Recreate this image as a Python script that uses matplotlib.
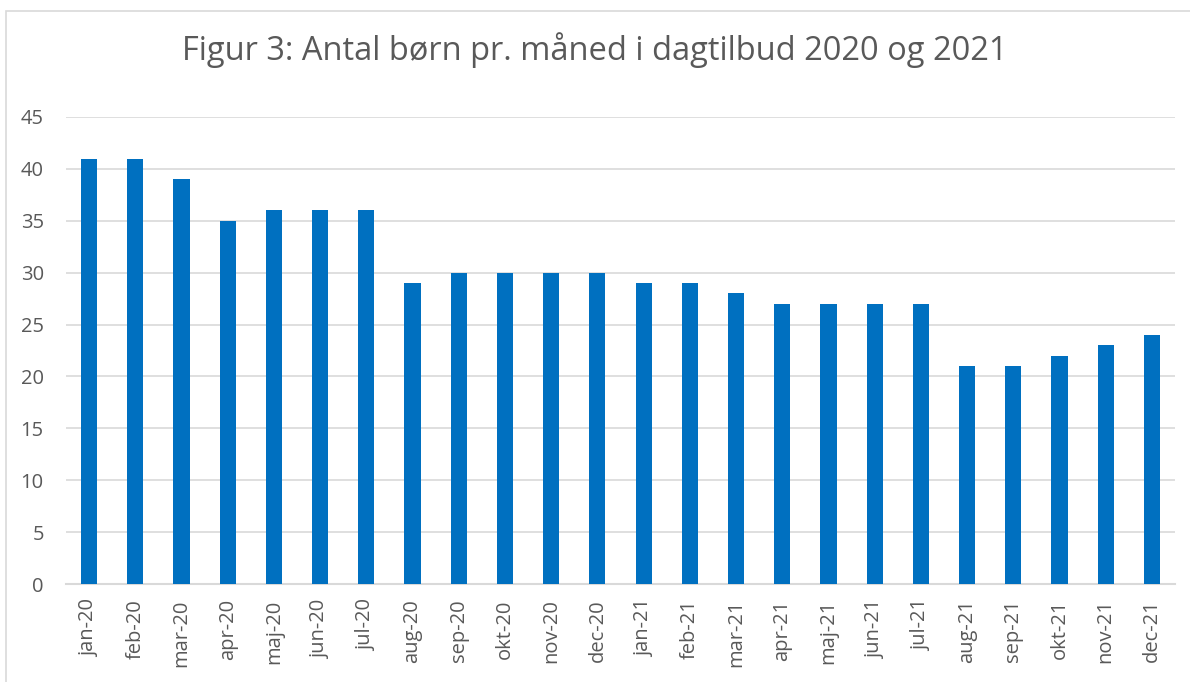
import matplotlib
matplotlib.use("Agg")
import matplotlib.pyplot as plt
from matplotlib.patches import Rectangle

months = ["jan-20", "feb-20", "mar-20", "apr-20", "maj-20", "jun-20", "jul-20", "aug-20",
          "sep-20", "okt-20", "nov-20", "dec-20", "jan-21", "feb-21", "mar-21", "apr-21",
          "maj-21", "jun-21", "jul-21", "aug-21", "sep-21", "okt-21", "nov-21", "dec-21"]
children = [41, 41, 39, 35, 36, 36, 36, 29, 30, 30, 30, 30,
            29, 29, 28, 27, 27, 27, 27, 21, 21, 22, 23, 24]
yticks = [0, 5, 10, 15, 20, 25, 30, 35, 40, 45]

plt.rcParams['font.family'] = ['Open Sans', 'DejaVu Sans']
grey = '#595959'

fig = plt.figure(figsize=(11.9, 6.82), dpi=100)
ax = fig.add_axes([66/1190, 1 - 584/682, (1175 - 66)/1190, (584 - 117)/682])

ax.bar(range(len(months)), children, width=0.35, color='#0070C0', zorder=3)

ax.set_xlim(-0.5, len(months) - 0.5)
ax.set_ylim(0, 45)
ax.set_yticks(yticks)
ax.set_xticks(range(len(months)))
ax.set_xticklabels(months, rotation=90)
ax.tick_params(axis='both', length=0, colors=grey, labelsize=14.5)
ax.tick_params(axis='x', pad=11)
ax.tick_params(axis='y', pad=16)
ax.grid(axis='y', color='#d9d9d9', linewidth=1.2, zorder=0)
for side in ['top', 'right', 'left']:
    ax.spines[side].set_visible(False)
ax.spines['bottom'].set_color('#d9d9d9')
ax.spines['bottom'].set_linewidth(1.5)

fig.text(0.5, 1 - 50/682, 'Figur 3: Antal børn pr. måned i dagtilbud 2020 og 2021',
         ha='center', va='center', fontsize=23.5, color=grey)

# chart border (runs off the bottom/right of the image)
fig.patches.append(Rectangle((6/1190, -0.05), 1.1, 1 - 11/682 + 0.05,
                             transform=fig.transFigure, fill=False,
                             edgecolor='#d9d9d9', linewidth=1.2))

fig.savefig('out.png', dpi=100)
